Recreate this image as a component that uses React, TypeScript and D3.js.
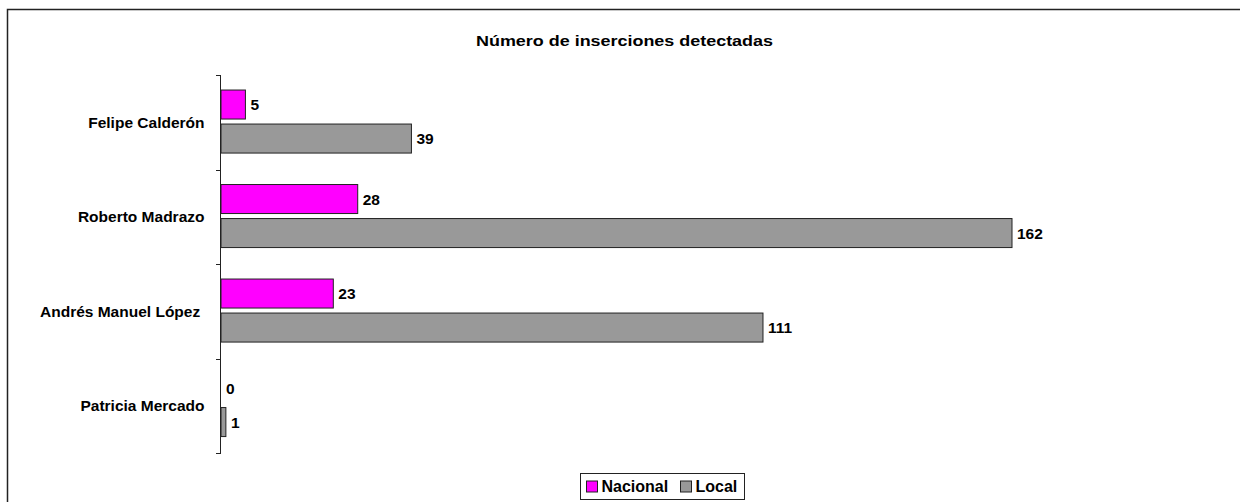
import React, { useEffect, useRef } from 'react'
import * as d3 from 'd3'

const categories = ['Felipe Calderón', 'Roberto Madrazo', 'Andrés Manuel López ', 'Patricia Mercado']
const seriesNames = ['Nacional', 'Local']
const nacional = [5, 28, 23, 0]
const local = [39, 162, 111, 1]
const colors = ['#ff00ff', '#999999']

const W = 1240
const H = 502

export default function App() {
  const svgRef = useRef<SVGSVGElement>(null)

  useEffect(() => {
    const svg = d3.select(svgRef.current)
    svg.selectAll('*').remove()
    const font = 'Arial, "Liberation Sans", Helvetica, sans-serif'

    // outer frame (runs off the picture on right / bottom)
    svg.append('rect')
      .attr('x', 7.5).attr('y', 9.5)
      .attr('width', W + 20).attr('height', H + 20)
      .attr('fill', 'white').attr('stroke', '#222').attr('stroke-width', 1.5)

    svg.append('text')
      .attr('x', 624.5).attr('y', 46)
      .attr('text-anchor', 'middle')
      .attr('textLength', 297).attr('lengthAdjust', 'spacingAndGlyphs')
      .style('font-family', font).style('font-weight', 'bold').style('font-size', '15.5px')
      .text('Número de inserciones detectadas')

    const x0 = 221
    const top = 75
    const bottom = 453
    const x = d3.scaleLinear().domain([0, 162]).range([x0, 1012])
    const y = d3.scaleBand().domain(categories).range([top, bottom]).padding(0)
    const bw = y.bandwidth()
    const barH = bw * 0.307
    const offsets = [bw * 0.159, bw * 0.519]

    const rows = categories.map((c, i) => ({ c, vals: [nacional[i], local[i]] }))

    const g = svg.append('g')

    rows.forEach(r => {
      const b = y(r.c)!
      r.vals.forEach((v, j) => {
        const yy = b + offsets[j]
        if (v > 0) {
          g.append('rect')
            .attr('x', x(0)).attr('y', yy)
            .attr('width', x(v) - x(0)).attr('height', barH)
            .attr('fill', colors[j]).attr('stroke', '#222').attr('stroke-width', 1)
        }
        g.append('text')
          .attr('x', x(v) + 5).attr('y', yy + barH / 2)
          .attr('dy', '0.36em')
          .style('font-family', font).style('font-weight', 'bold').style('font-size', '15.5px')
          .text(v)
      })
      g.append('text')
        .attr('x', 204.5).attr('y', b + bw / 2)
        .attr('dy', '0.35em')
        .attr('text-anchor', 'end')
        .style('white-space', 'pre')
        .style('font-family', font).style('font-weight', 'bold').style('font-size', '15.5px')
        .text(r.c)
    })

    // axis line and ticks
    g.append('line')
      .attr('x1', x0 - 0.5).attr('x2', x0 - 0.5).attr('y1', top).attr('y2', bottom)
      .attr('stroke', '#222')
    const ticks = categories.map(c => y(c)!).concat([bottom])
    g.selectAll('line.tick').data(ticks).enter().append('line')
      .attr('class', 'tick')
      .attr('x1', x0 - 5).attr('x2', x0).attr('y1', d => Math.round(d) + 0.5).attr('y2', d => Math.round(d) + 0.5)
      .attr('stroke', '#222')

    // legend
    const lg = svg.append('g').attr('transform', 'translate(580.5,473.5)')
    lg.append('rect').attr('width', 164).attr('height', 26)
      .attr('fill', 'white').attr('stroke', '#222').attr('stroke-width', 1)
    const itemX = [6, 100]
    seriesNames.forEach((s, i) => {
      lg.append('rect').attr('x', itemX[i]).attr('y', 7.5).attr('width', 11).attr('height', 11)
        .attr('fill', colors[i]).attr('stroke', '#222')
      lg.append('text').attr('x', itemX[i] + 15).attr('y', 12.5).attr('dy', '0.36em')
        .style('font-family', font).style('font-weight', 'bold').style('font-size', '16px')
        .text(s)
    })
  }, [])

  return (
    <svg ref={svgRef} width={W} height={H}
      style={{ position: 'absolute', left: 0, top: 0, background: 'white' }} />
  )
}
